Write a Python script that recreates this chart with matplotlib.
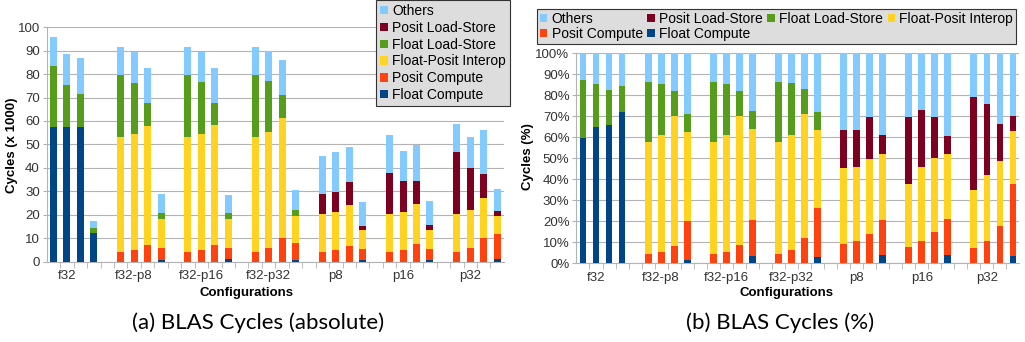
import matplotlib
matplotlib.use('Agg')
import matplotlib.pyplot as plt
import numpy as np

plt.rcParams['font.family'] = ['Liberation Sans', 'DejaVu Sans']

configs = ['f32', 'f32-p8', 'f32-p16', 'f32-p32', 'p8', 'p16', 'p32']
series = ['Float Compute', 'Posit Compute', 'Float-Posit Interop',
          'Float Load-Store', 'Posit Load-Store', 'Others']
colors = ['#004586', '#ff420e', '#ffd320', '#579d1c', '#7e0021', '#83caff']

# absolute cycles (x 1000), 4 runs per configuration
abs_float_compute = [57.4, 57.4, 57.4, 12.5, 0, 0, 0, 0.9, 0, 0, 0, 1.3, 0, 0, 0, 1.0,
                     0, 0, 0, 1.0, 0, 0, 0, 1.0, 0, 0, 0, 1.3]
abs_posit_compute = [0, 0, 0, 0, 4.4, 5.1, 7.1, 4.9, 4.4, 5.1, 7.4, 4.5, 4.4, 5.8, 10.4, 7.2,
                     4.3, 5.0, 7.0, 4.5, 4.3, 5.0, 7.5, 4.5, 4.3, 5.8, 10.1, 10.5]
abs_interop = [0, 0, 0, 0, 48.9, 49.3, 50.7, 12.4, 48.9, 49.3, 50.7, 12.4, 48.9, 49.6, 50.7, 11.5,
               16.2, 16.4, 17.1, 7.9, 16.2, 16.4, 17.2, 8.3, 16.2, 16.5, 17.3, 7.8]
abs_float_ls = [26.0, 17.9, 14.2, 2.1, 26.2, 21.9, 10.0, 2.8, 26.2, 22.2, 9.7, 2.8, 26.2, 21.7, 9.9, 2.5,
                0, 0, 0, 0, 0, 0, 0, 0, 0, 0, 0, 0]
abs_posit_ls = [0, 0, 0, 0, 0, 0, 0, 0, 0, 0, 0, 0, 0, 0, 0, 0,
                8.3, 8.3, 10.1, 2.1, 17.3, 13.1, 9.8, 2.0, 26.1, 17.9, 10.0, 2.3]
abs_others = [12.5, 13.1, 15.2, 2.7, 12.1, 12.9, 14.7, 8.1, 12.1, 12.6, 14.7, 7.4, 12.1, 12.8, 14.8, 8.6,
              16.5, 16.9, 14.8, 9.9, 16.3, 12.7, 15.1, 10.3, 12.3, 12.8, 18.9, 9.2]

# share of cycles (%)
pct_float_compute = [59.8, 65.1, 65.9, 71.9, 0, 0, 0, 1.7, 0, 0, 0, 3.5, 0, 0, 0, 3.0,
                     0, 0, 0, 3.8, 0, 0, 0, 3.8, 0, 0, 0, 3.5]
pct_posit_compute = [0, 0, 0, 0, 4.4, 5.4, 8.4, 18.3, 4.4, 5.4, 8.7, 17.1, 4.4, 6.5, 12.1, 23.2,
                     9.0, 10.5, 14.0, 16.8, 7.8, 10.5, 15.1, 17.2, 7.1, 10.8, 17.8, 34.1]
pct_interop = [0, 0, 0, 0, 53.5, 55.6, 61.8, 42.5, 53.5, 55.6, 61.5, 43.4, 53.5, 54.8, 59.0, 37.3,
               36.4, 35.2, 35.7, 31.6, 30.1, 35.2, 35.1, 31.1, 27.8, 31.4, 30.9, 25.6]
pct_float_ls = [27.3, 20.1, 16.6, 12.5, 28.4, 24.2, 11.9, 8.6, 28.4, 24.2, 11.9, 8.7, 28.4, 24.6, 11.8, 8.4,
                0, 0, 0, 0, 0, 0, 0, 0, 0, 0, 0, 0]
pct_posit_ls = [0, 0, 0, 0, 0, 0, 0, 0, 0, 0, 0, 0, 0, 0, 0, 0,
                18.3, 18.0, 19.8, 8.8, 31.6, 27.2, 19.6, 8.4, 44.3, 33.5, 17.6, 7.0]
pct_others = [12.9, 14.8, 17.5, 15.6, 13.7, 14.8, 17.9, 28.9, 13.7, 14.8, 17.9, 27.3, 13.7, 14.1, 17.1, 28.1,
              36.3, 36.3, 30.5, 39.0, 30.5, 27.1, 30.2, 39.5, 20.8, 24.3, 33.7, 29.8]

abs_data = [abs_float_compute, abs_posit_compute, abs_interop, abs_float_ls, abs_posit_ls, abs_others]
pct_data = [pct_float_compute, pct_posit_compute, pct_interop, pct_float_ls, pct_posit_ls, pct_others]

# each config gets 4 slots plus an empty one
x = np.array([g * 5 + j for g in range(len(configs)) for j in range(4)])

fig = plt.figure(figsize=(10.25, 3.42), dpi=100)
ax1 = fig.add_axes([0.0456, 0.234, 0.446, 0.687])
ax2 = fig.add_axes([0.5624, 0.230, 0.4322, 0.614])

txt = '#333333'
grid = '#b3b3b3'
fs = 9.5


def draw(ax, data):
    bottom = np.zeros(len(x))
    handles = []
    for vals, name, c in zip(data, series, colors):
        vals = np.array(vals, dtype=float)
        h = ax.bar(x, vals, 0.52, bottom=bottom, color=c, label=name, zorder=3)
        handles.append(h)
        bottom += vals
    ax.set_xlim(-0.5, 33.5)
    ax.set_xticks([g * 5 + 1 for g in range(len(configs))])
    ax.set_xticklabels(configs, fontsize=fs, color=txt)
    ax.set_xticks(np.arange(0.5, 33.5, 1), minor=True)
    ax.tick_params(axis='x', which='major', length=0, pad=6)
    ax.tick_params(axis='x', which='minor', length=4, color=grid)
    ax.tick_params(axis='y', length=3, color=grid, labelsize=fs, labelcolor=txt, pad=2)
    ax.grid(axis='y', color=grid, linewidth=0.8, zorder=0)
    for s in ['top', 'right']:
        ax.spines[s].set_visible(False)
    for s in ['left', 'bottom']:
        ax.spines[s].set_color(grid)
    ax.set_ylim(0, 100)
    ax.set_yticks(range(0, 101, 10))
    return handles


h1 = draw(ax1, abs_data)
h2 = draw(ax2, pct_data)
ax2.set_yticklabels(['%d%%' % v for v in range(0, 101, 10)])

fig.text(12 / 1025, 1 - 145 / 342, 'Cycles (x 1000)', fontsize=fs, fontweight='bold',
         rotation=90, ha='center', va='center')
fig.text(528 / 1025, 1 - 157 / 342, 'Cycles (%)', fontsize=fs, fontweight='bold',
         rotation=90, ha='center', va='center')
fig.text(247 / 1025, 1 - 293 / 342, 'Configurations', fontsize=fs, fontweight='bold',
         ha='center', va='center')
fig.text(787 / 1025, 1 - 293 / 342, 'Configurations', fontsize=fs, fontweight='bold',
         ha='center', va='center')

# legend on the left chart: reverse stacking order, one column
leg1 = fig.legend(h1[::-1], series[::-1], loc='upper right', bbox_to_anchor=(510 / 1025, 1.0),
                  fontsize=10, frameon=True, fancybox=False, borderaxespad=0,
                  handlelength=0.55, handleheight=0.55, handletextpad=0.3, labelspacing=0.2,
                  borderpad=0.3)
leg1.get_frame().set_facecolor('#dddddd')
leg1.get_frame().set_edgecolor('#333333')
leg1.get_frame().set_linewidth(0.8)
leg1.get_frame().set_alpha(1)

# legend on the right chart: 4 columns, row order
order = [5, 1, 4, 0, 3, 2]
leg2 = fig.legend([h2[i] for i in order], [series[i] for i in order], loc='lower left',
                  bbox_to_anchor=(537 / 1025, 1 - 44 / 342, (1016 - 537) / 1025, 35 / 342),
                  mode='expand', ncol=4, fontsize=10, frameon=True, fancybox=False,
                  borderaxespad=0, handlelength=0.55, handleheight=0.55, handletextpad=0.3,
                  labelspacing=0.1, borderpad=0.2, columnspacing=0.8)
leg2.get_frame().set_facecolor('#dddddd')
leg2.get_frame().set_edgecolor('#333333')
leg2.get_frame().set_linewidth(0.8)
leg2.get_frame().set_alpha(1)

fig.text(258 / 1025, 1 - 323 / 342, '(a) BLAS Cycles (absolute)', fontsize=16,
         family=['Lato', 'DejaVu Sans'], ha='center', va='center')
fig.text(780 / 1025, 1 - 323 / 342, '(b) BLAS Cycles (%)', fontsize=16,
         family=['Lato', 'DejaVu Sans'], ha='center', va='center')

fig.savefig('out.png', dpi=100)
